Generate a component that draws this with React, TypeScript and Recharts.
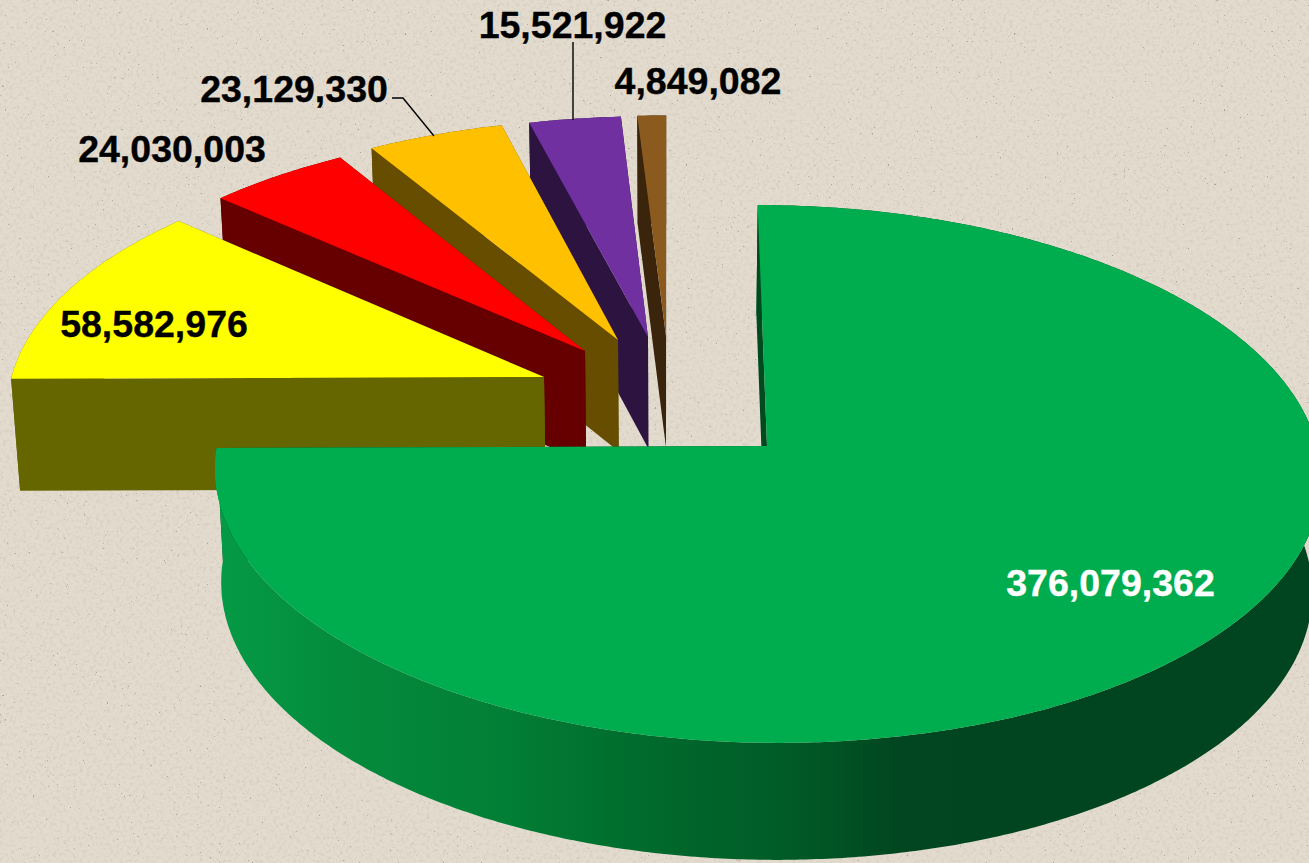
import { PieChart, Pie } from 'recharts';

const W = 1309;
const H = 863;

// drawn back to front, counter-clockwise from twelve o'clock
const sliceNames = ['brown', 'purple', 'orange', 'red', 'yellow', 'green'];
const sliceValues = [4849082, 15521922, 23129330, 24030003, 58582976, 376079362];
const sliceColors = ['#8b5a1e', '#7030a0', '#ffc000', '#ff0000', '#ffff00', '#00ad4e'];
const sideColors = ['#3b240c', '#2d1340', '#664d00', '#660000', '#666600', 'url(#greenRim)'];
const labelColors = ['#000', '#000', '#000', '#000', '#000', '#fff'];

// how far each slice is pulled out, in pie radii
const explodeX = [-0.1838, -0.218, -0.2748, -0.3367, -0.4117, 0];
const explodeY = [0.432, 0.428, 0.4157, 0.371, 0.2666, 0];
const sliceRadius = [0.995, 0.995, 0.995, 0.995, 0.995, 1];

// label centre and baseline
const labelX = [698, 572.5, 294, 172, 154, 1110.5];
const labelY = [94, 38, 102, 162, 337, 596];

const data = sliceNames.map((name, i) => ({ name, value: sliceValues[i], fill: sliceColors[i] }));

// perspective of the pie plane
const CX = 767;
const CY = 446;
const RADIUS = 550;
const VANISH_X = 668;
const TILT = 0.104;
const FLAT = 266;

function project(X: number, Y: number) {
  const w = 1 + TILT * Y;
  return {
    x: VANISH_X + (CX - VANISH_X + RADIUS * X) / w,
    y: CY - (FLAT * Y) / w,
  };
}

function extrude(p: { x: number; y: number }) {
  return {
    x: p.x + 0.0137 * (VANISH_X - p.x),
    y: p.y + 112 + 0.0137 * (p.y - 378),
  };
}

function toPath(pts: { x: number; y: number }[]) {
  return pts.map((p, i) => `${i ? 'L' : 'M'}${p.x.toFixed(1)} ${p.y.toFixed(1)}`).join(' ') + ' Z';
}

function Slice3D(props: any) {
  const { startAngle, endAngle, payload, fill } = props;
  const i = sliceNames.indexOf(payload?.name ?? props.name);
  const ex = explodeX[i];
  const ey = explodeY[i];
  const r = sliceRadius[i];
  const apex = project(ex, ey);
  const rim = [];
  const steps = Math.max(2, Math.ceil(Math.abs(endAngle - startAngle) * 2));
  for (let s = 0; s <= steps; s++) {
    const a = ((startAngle + ((endAngle - startAngle) * s) / steps) * Math.PI) / 180;
    rim.push(project(ex + r * Math.cos(a), ey + r * Math.sin(a)));
  }
  const rimLow = rim.map(extrude).reverse();
  const apexLow = extrude(apex);
  const first = rim[0];
  const last = rim[rim.length - 1];
  const side = sideColors[i];
  const flatSide = i === 5 ? '#004a20' : side;
  return (
    <g>
      <path d={toPath([apex, first, extrude(first), apexLow])} fill={flatSide} />
      <path d={toPath([...rim, ...rimLow])} fill={side} />
      <path d={toPath([apex, last, extrude(last), apexLow])} fill={flatSide} />
      <path d={toPath([apex, ...rim])} fill={fill} />
    </g>
  );
}

function renderLabel(props: any) {
  const i = props.index;
  return (
    <text
      key={i}
      x={labelX[i]}
      y={labelY[i]}
      textAnchor="middle"
      fontFamily="'Liberation Sans', Arial, sans-serif"
      fontWeight="bold"
      fontSize={37.5}
      fill={labelColors[i]}
      stroke={labelColors[i]}
      strokeWidth={0.35}
    >
      {sliceValues[i].toLocaleString('en-US')}
    </text>
  );
}

export default function App() {
  return (
    <div style={{ position: 'absolute', left: 0, top: 0, width: W, height: H, overflow: 'hidden', background: '#e2dbce' }}>
      <svg width={W} height={H} style={{ position: 'absolute', left: 0, top: 0 }}>
        <defs>
          <filter id="grain" x="0" y="0" width="100%" height="100%">
            <feTurbulence type="fractalNoise" baseFrequency="0.3" numOctaves={2} seed={7} />
            <feColorMatrix values="0 0 0 0 0.5  0 0 0 0 0.46  0 0 0 0 0.38  3 0 0 0 -1.4" />
            <feGaussianBlur stdDeviation="0.7" />
          </filter>
          <filter id="specks" x="0" y="0" width="100%" height="100%">
            <feTurbulence type="fractalNoise" baseFrequency="0.42" numOctaves={2} seed={21} />
            <feColorMatrix values="0 0 0 0 0.32  0 0 0 0 0.3  0 0 0 0 0.25  16 0 0 0 -12.2" />
            <feGaussianBlur stdDeviation="0.5" />
          </filter>
        </defs>
        <rect width={W} height={H} filter="url(#grain)" opacity={0.28} />
        <rect width={W} height={H} filter="url(#specks)" opacity={0.75} />
      </svg>
      <div style={{ position: 'absolute', left: 0, top: 0 }}>
        <PieChart width={W} height={H} margin={{ top: 0, right: 0, bottom: 0, left: 0 }}>
          <defs>
            <linearGradient id="greenRim" gradientUnits="userSpaceOnUse" x1="220" y1="0" x2="1000" y2="0">
              <stop offset="0" stopColor="#059a45" />
              <stop offset="0.17" stopColor="#048a3c" />
              <stop offset="0.36" stopColor="#027f36" />
              <stop offset="0.55" stopColor="#006a2c" />
              <stop offset="0.74" stopColor="#005a26" />
              <stop offset="0.87" stopColor="#004620" />
              <stop offset="1" stopColor="#004520" />
            </linearGradient>
          </defs>
          <Pie
            data={data}
            dataKey="value"
            nameKey="name"
            cx={CX}
            cy={CY}
            outerRadius={RADIUS}
            startAngle={90}
            endAngle={450}
            stroke="none"
            label={renderLabel}
            labelLine={false}
            shape={Slice3D}
            isAnimationActive={false}
          />
        </PieChart>
      </div>
      <svg width={W} height={H} style={{ position: 'absolute', left: 0, top: 0, pointerEvents: 'none' }}>
        <polyline points="392,98 403,98 434,136" fill="none" stroke="#000" strokeWidth={1.4} />
        <line x1={573} y1={42} x2={573} y2={120} stroke="#000" strokeWidth={1.4} />
      </svg>
    </div>
  );
}
